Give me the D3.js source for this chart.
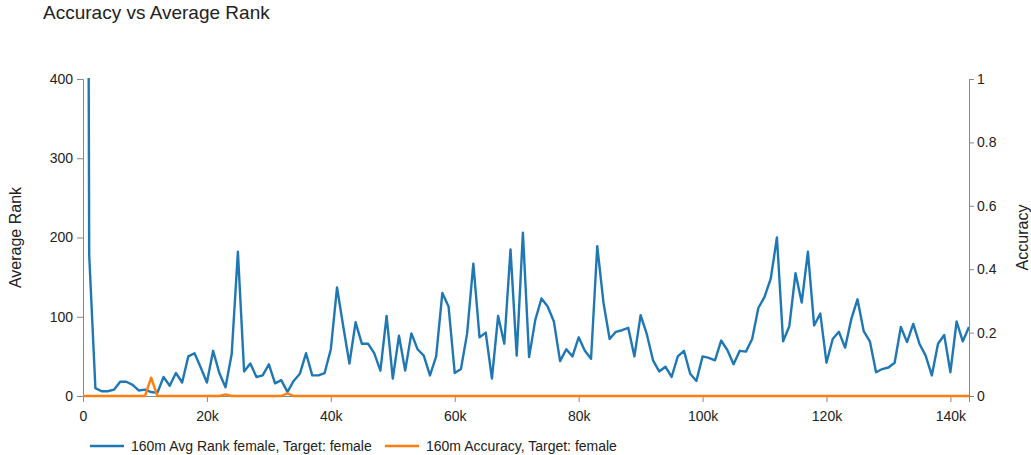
<!DOCTYPE html>
<html>
<head>
<meta charset="utf-8">
<script src="https://d3js.org/d3.v7.min.js"></script>
<style>
  body { margin: 0; background: #fff; }
  svg { font-family: "Liberation Sans", Arial, sans-serif; }
  .axis path, .axis line { stroke: #888; }
  .axis text { fill: #222; font-size: 14px; }
</style>
</head>
<body>
<svg width="1031" height="455"></svg>
<script>
// Training steps (in thousands) for both series
var steps = d3.range(0, 144);

// 160m Avg Rank female, Target: female (first value runs off the top of the plot)
var avgRank = [2950, 178, 10, 6, 6, 8, 18, 18, 14, 7,
  8, 5, 4, 24, 13, 29, 17, 50, 54, 36,
  17, 57, 29, 11, 53, 182, 31, 41, 24, 26,
  40, 16, 20, 5, 19, 28, 54, 26, 26, 29,
  59, 137, 88, 41, 93, 66, 66, 54, 32, 101,
  22, 76, 32, 79, 59, 51, 26, 50, 130, 113,
  29, 34, 79, 167, 74, 80, 22, 101, 66, 185,
  51, 206, 49, 96, 123, 113, 94, 44, 59, 50,
  74, 57, 47, 189, 118, 72, 81, 83, 86, 50,
  102, 78, 45, 31, 37, 24, 50, 57, 28, 19,
  50, 48, 45, 70, 58, 40, 57, 56, 72, 111,
  125, 148, 200, 69, 88, 155, 118, 182, 89, 104,
  42, 72, 81, 61, 97, 122, 82, 69, 30, 34,
  36, 42, 87, 68, 91, 66, 51, 26, 66, 77,
  30, 94, 69, 87];

// 160m Accuracy, Target: female (zero except a few small bumps)
var accuracy = steps.map(function(s) {
  return s === 11 ? 0.058 : s === 23 ? 0.005 : s === 33 ? 0.008 : 0;
});

var seriesNames = ["160m Avg Rank female, Target: female", "160m Accuracy, Target: female"];
var rankTicks = [0, 100, 200, 300, 400];
var accTicks = [0, 0.2, 0.4, 0.6, 0.8, 1];
var stepTicks = [0, 20000, 40000, 60000, 80000, 100000, 120000, 140000];

var svg = d3.select("svg"),
    margin = {top: 79, right: 62, bottom: 59, left: 83},
    width = +svg.attr("width") - margin.left - margin.right,
    height = +svg.attr("height") - margin.top - margin.bottom,
    g = svg.append("g").attr("transform", "translate(" + margin.left + "," + margin.top + ")"),
    color = d3.scaleOrdinal().domain(seriesNames).range(["#1f77b4", "#ff7f0e"]);

var x = d3.scaleLinear().domain([0, 143000]).range([0, width]),
    yRank = d3.scaleLinear().domain([0, 400]).range([height, 0]),
    yAcc = d3.scaleLinear().domain([0, 1]).range([height, 0]);

// Title
svg.append("text")
  .attr("x", 43)
  .attr("y", 19)
  .attr("fill", "#222")
  .style("font-size", "19px")
  .text("Accuracy vs Average Rank");

// Clip the lines to the plot area (a little room below so the zero line keeps its width)
svg.append("defs").append("clipPath")
  .attr("id", "plot")
  .append("rect")
  .attr("y", -1)
  .attr("width", width)
  .attr("height", height + 4);

// X axis
g.append("g")
  .attr("class", "axis")
  .attr("transform", "translate(0," + height + ")")
  .call(d3.axisBottom(x).tickValues(stepTicks).tickFormat(d3.format("~s")).tickPadding(9));

// Left axis
g.append("g")
  .attr("class", "axis")
  .call(d3.axisLeft(yRank).tickValues(rankTicks).tickPadding(4));
g.append("text")
  .attr("transform", "rotate(-90)")
  .attr("x", -(height / 2))
  .attr("y", -62)
  .attr("text-anchor", "middle")
  .attr("fill", "#222")
  .style("font-size", "16px")
  .text("Average Rank");

// Right axis
g.append("g")
  .attr("class", "axis")
  .attr("transform", "translate(" + width + ",0)")
  .call(d3.axisRight(yAcc).tickValues(accTicks).tickFormat(d3.format("~g")).tickSize(5).tickPadding(3));
g.append("text")
  .attr("transform", "rotate(-90)")
  .attr("x", -(height / 2))
  .attr("y", width + 59)
  .attr("text-anchor", "middle")
  .attr("fill", "#222")
  .style("font-size", "16px")
  .text("Accuracy");

// Lines
var rankLine = d3.line()
  .x(function(d, i) { return x(steps[i] * 1000); })
  .y(function(d) { return yRank(d); });
var accLine = d3.line()
  .x(function(d, i) { return x(steps[i] * 1000); })
  .y(function(d) { return yAcc(d); });

var lines = g.append("g").attr("clip-path", "url(#plot)");
lines.append("path")
  .datum(avgRank)
  .attr("fill", "none")
  .attr("stroke", color(seriesNames[0]))
  .attr("stroke-width", 2.4)
  .attr("stroke-linejoin", "round")
  .attr("d", rankLine);
lines.append("path")
  .datum(accuracy)
  .attr("fill", "none")
  .attr("stroke", color(seriesNames[1]))
  .attr("stroke-width", 2.4)
  .attr("stroke-linejoin", "round")
  .attr("d", accLine);

// Legend
var legendX = [90, 385];
var legend = svg.selectAll(".legend")
  .data(seriesNames)
  .enter()
  .append("g")
  .attr("class", "legend")
  .attr("transform", function(d, i) { return "translate(" + legendX[i] + ",446)"; });
legend.append("line")
  .attr("x1", 0)
  .attr("x2", 34)
  .attr("stroke", function(d) { return color(d); })
  .attr("stroke-width", 2.4);
legend.append("text")
  .attr("x", 41)
  .attr("y", 5)
  .attr("fill", "#222")
  .style("font-size", "14px")
  .text(function(d) { return d; });
</script>
</body>
</html>
